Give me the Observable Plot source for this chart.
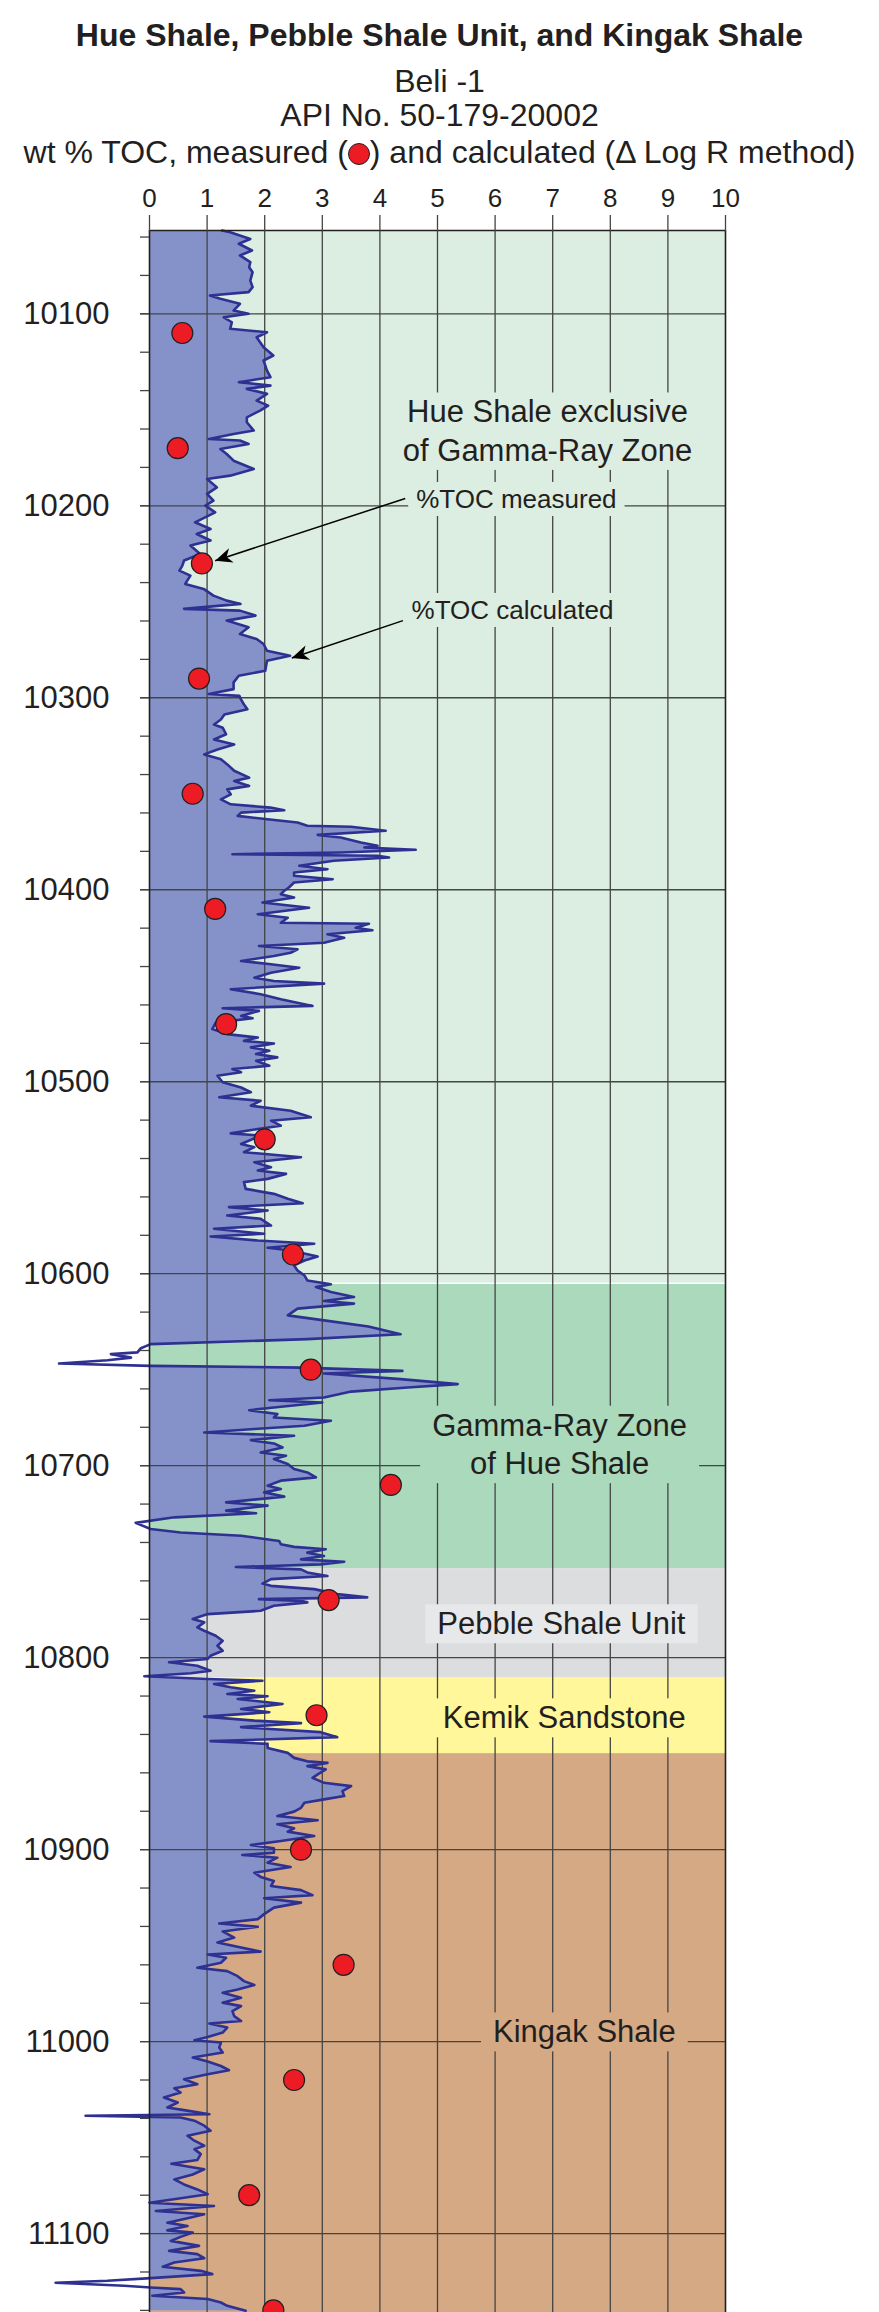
<!DOCTYPE html>
<html><head><meta charset="utf-8">
<script src="https://cdn.jsdelivr.net/npm/d3@7"></script>
<script src="https://cdn.jsdelivr.net/npm/@observablehq/plot@0.6"></script>
<style>
html,body{margin:0;padding:0;background:#fff;}
body{width:879px;height:2312px;overflow:hidden;font-family:"Liberation Sans",Arial,Helvetica,sans-serif;color:#231f20;}
#header{position:relative;height:170px;}
#header div{position:absolute;left:0;width:879px;text-align:center;font-size:32px;line-height:32px;white-space:nowrap;}
#title{top:19px;font-weight:bold;}
#well{top:65px;}
#api{top:99px;}
#measure{top:136px;}
.dot{display:inline-block;width:22px;height:22px;border-radius:50%;background:#ed1c24;border:1.2px solid #231f20;box-sizing:border-box;vertical-align:-2px;}
#chart svg{display:block;}
</style></head><body>
<div id="header">
 <div id="title">Hue Shale, Pebble Shale Unit, and Kingak Shale</div>
 <div id="well">Beli -1</div>
 <div id="api">API No. 50-179-20002</div>
 <div id="measure">wt % TOC, measured (<span class="dot"></span>) and calculated (Δ Log R method)</div>
</div>
<div id="chart"></div>
<script>
// Calculated TOC (Delta Log R) – depth (ft) and wt % TOC
const calcDepth = [
10056.6,10057.5,10061.0,10063.5,10067.0,10069.6,10073.1,10075.7,10078.3,10082.7,10086.1,10088.7,10090.5,10092.2,10094.8,10098.3,
10100.0,10101.8,10104.4,10107.8,10109.6,10112.2,10117.4,10121.7,10124.3,10129.6,10133.0,10135.6,10137.4,10139.1,10141.7,10145.2,
10147.8,10150.4,10153.9,10156.5,10160.8,10162.6,10165.2,10166.0,10167.8,10170.4,10173.0,10176.5,10180.8,10184.3,10186.0,10190.4,
10193.8,10197.3,10199.9,10203.4,10208.6,10212.1,10214.7,10218.1,10220.7,10225.1,10228.5,10231.2,10233.8,10236.4,10240.7,10243.3,
10246.8,10249.4,10251.1,10253.7,10254.6,10257.2,10259.8,10263.3,10266.8,10269.4,10272.0,10275.5,10278.1,10280.7,10285.9,10288.5,
10292.0,10295.5,10298.0,10299.0,10301.0,10303.5,10306.0,10308.7,10311.3,10313.9,10315.6,10319.0,10321.7,10324.3,10326.9,10329.5,
10332.0,10334.7,10338.0,10341.6,10343.3,10345.9,10347.7,10350.3,10352.9,10355.5,10357.2,10358.6,10359.8,10361.5,10363.3,10365.0,
10366.7,10367.2,10369.3,10371.4,10372.8,10375.4,10377.1,10378.0,10379.2,10380.6,10381.5,10382.3,10383.2,10384.9,10387.5,10389.3,
10391.0,10392.7,10394.5,10396.2,10398.8,10400.5,10402.3,10404.0,10406.6,10409.4,10412.8,10414.6,10417.2,10417.7,10419.8,10421.1,
10423.2,10425.0,10427.6,10429.3,10431.0,10432.8,10434.5,10437.1,10438.8,10440.6,10443.2,10445.8,10447.5,10448.9,10451.8,10454.4,
10457.0,10460.5,10461.7,10463.1,10465.7,10466.9,10469.2,10472.6,10475.2,10477.0,10478.7,10480.1,10482.1,10483.9,10485.6,10487.3,
10489.1,10491.7,10493.4,10495.1,10496.9,10500.3,10503.0,10505.5,10508.1,10509.9,10512.5,10515.1,10518.5,10520.3,10522.9,10524.6,
10526.9,10528.1,10532.4,10534.1,10536.7,10539.3,10541.9,10544.5,10546.2,10548.0,10550.6,10552.3,10555.8,10558.4,10561.0,10563.3,
10565.3,10567.1,10569.7,10571.4,10574.9,10576.6,10579.2,10580.6,10582.7,10584.4,10586.5,10587.9,10591.0,10593.1,10595.7,10598.3,
10600.9,10603.5,10605.5,10606.9,10609.5,10612.1,10614.2,10615.6,10618.2,10621.7,10624.3,10627.5,10631.5,10634.1,10636.7,10638.8,
10641.0,10641.9,10643.7,10645.1,10646.8,10648.0,10648.9,10650.6,10652.0,10654.9,10657.5,10659.3,10661.4,10664.5,10665.9,10667.1,
10669.7,10671.1,10673.1,10674.9,10676.6,10679.2,10680.9,10682.7,10684.4,10686.7,10688.4,10690.5,10693.1,10694.8,10696.5,10699.1,
10701.7,10703.5,10706.1,10707.8,10710.4,10712.1,10713.9,10716.1,10719.1,10720.8,10723.4,10724.8,10726.9,10729.8,10733.0,10734.8,
10736.5,10739.2,10740.9,10742.3,10743.5,10745.3,10747.0,10748.8,10750.0,10751.4,10752.8,10754.0,10755.6,10757.5,10759.1,10761.4,
10762.6,10764.3,10766.9,10768.6,10769.5,10770.4,10771.2,10773.0,10775.6,10777.3,10779.9,10781.6,10784.2,10786.0,10788.6,10791.2,
10793.8,10796.4,10799.0,10800.7,10802.4,10804.2,10806.8,10808.1,10809.7,10811.1,10812.0,10813.7,10815.4,10817.2,10818.9,10820.1,
10821.5,10824.1,10826.7,10828.4,10830.7,10832.8,10834.1,10836.2,10838.8,10841.4,10843.5,10844.9,10847.0,10849.6,10852.2,10854.0,
10854.8,10856.5,10858.2,10860.8,10862.6,10865.2,10866.9,10869.5,10872.1,10873.8,10875.6,10878.2,10880.2,10882.5,10884.7,10886.8,
10888.9,10890.6,10892.9,10895.5,10897.6,10899.3,10901.6,10902.8,10904.2,10906.8,10909.0,10912.0,10914.2,10916.3,10918.9,10921.1,
10923.7,10925.3,10927.6,10930.2,10933.6,10936.2,10938.5,10940.2,10942.6,10945.8,10948.4,10951.0,10953.1,10954.6,10956.3,10958.9,
10961.5,10963.3,10965.9,10968.5,10970.5,10972.8,10974.5,10977.1,10979.7,10981.5,10984.1,10986.7,10989.3,10990.6,10992.7,10995.3,
10997.6,10999.3,11000.5,11003.1,11005.7,11008.3,11010.4,11012.7,11014.9,11017.0,11019.6,11022.2,11024.3,11026.5,11029.1,11031.7,
11034.3,11035.7,11037.8,11038.6,11039.5,11041.2,11043.8,11046.4,11049.0,11051.6,11054.2,11056.0,11058.6,11061.7,11063.6,11066.5,
11069.2,11071.8,11074.4,11077.0,11079.5,11081.6,11083.9,11085.6,11088.2,11089.9,11092.0,11094.3,11096.0,11098.3,11099.5,11101.7,
11103.8,11106.4,11109.0,11110.7,11112.8,11115.1,11117.3,11119.4,11121.1,11123.2,11124.6,11125.6,11127.2,11128.1,11128.9,11130.7,
11132.4,11134.1,11135.9,11137.6,11140.2
];
const calcToc = [
1.26,1.40,1.75,1.55,1.78,1.57,1.75,1.73,1.79,1.75,1.79,1.72,1.05,1.23,1.57,1.46,
1.72,1.29,1.43,1.40,2.04,1.86,1.98,2.15,1.98,2.04,2.10,1.55,2.10,1.69,2.04,1.86,
2.06,1.92,1.69,1.69,1.81,1.46,1.03,1.57,1.72,1.23,1.34,1.46,1.81,1.40,1.00,1.17,
1.00,1.11,0.97,1.14,0.79,1.06,0.82,1.06,0.71,0.88,0.60,0.57,0.52,0.71,0.62,0.94,
1.11,1.34,1.58,0.60,1.57,1.84,1.34,1.72,1.57,1.86,1.98,2.04,2.44,2.04,2.01,1.55,
1.46,1.46,1.03,1.56,1.59,1.64,1.70,1.30,1.24,1.12,1.27,1.33,1.12,1.47,1.18,0.95,
1.24,1.35,1.47,1.73,1.47,1.73,1.35,1.41,1.24,1.41,2.10,2.34,1.59,1.53,2.05,2.57,
2.74,3.50,4.10,2.92,3.32,3.67,3.96,3.73,4.62,3.32,1.44,3.96,4.16,3.20,2.60,3.09,
2.51,2.51,3.18,2.51,2.42,2.34,2.28,2.51,1.96,2.77,1.88,2.40,2.28,3.81,3.58,3.87,
3.09,3.38,3.03,1.90,2.57,2.45,2.16,1.59,2.11,2.60,2.11,1.82,2.16,3.03,1.41,1.93,
2.28,2.83,1.27,1.90,1.59,1.79,1.15,1.09,1.35,1.88,1.64,2.16,1.76,2.08,1.85,2.22,
1.85,2.08,1.44,1.59,1.18,1.27,1.59,1.76,1.21,1.93,1.76,2.45,2.80,2.11,2.28,1.88,
1.41,1.93,1.59,1.82,1.64,2.63,1.82,2.11,1.88,2.37,2.05,1.64,1.67,2.16,2.40,2.66,
1.38,2.05,1.35,1.93,2.11,1.12,1.99,1.06,1.88,2.86,2.05,2.45,2.92,2.69,2.51,2.57,
2.69,2.74,3.15,2.89,3.15,3.55,3.03,3.55,2.57,2.40,3.03,3.80,4.36,2.74,0.02,-0.15,
-0.21,-0.67,-0.32,-0.73,-1.57,0.02,2.63,4.39,3.03,4.36,5.35,4.48,3.50,3.03,2.08,3.00,
2.16,1.73,2.22,2.16,3.15,2.69,1.82,0.95,2.51,1.76,2.16,2.31,1.93,2.37,2.16,2.40,
2.51,2.74,2.89,2.28,2.05,2.28,1.99,2.34,1.33,2.05,1.33,1.85,0.43,-0.24,0.02,0.54,
1.59,2.25,2.28,2.51,3.06,2.74,3.03,2.63,3.38,2.97,1.50,2.63,2.74,3.09,2.11,1.96,
2.11,2.86,3.26,3.78,1.90,2.63,2.74,2.16,1.93,1.01,0.75,0.95,0.83,0.95,1.15,1.27,
1.18,1.27,1.06,1.01,0.34,0.83,1.06,0.72,-0.09,1.01,1.96,1.12,1.41,1.82,1.35,2.05,
1.53,2.31,1.59,2.08,0.95,1.82,2.63,1.59,2.97,3.26,1.06,2.05,2.05,2.40,2.51,2.74,
3.09,2.74,3.06,2.92,2.83,3.03,3.50,3.35,3.38,3.03,2.69,2.63,2.51,2.22,2.92,2.22,
2.51,2.40,2.86,2.28,1.76,2.16,2.16,1.61,2.22,2.05,2.45,1.82,1.93,2.16,2.11,2.63,
2.83,1.99,2.63,2.16,1.99,1.88,1.21,1.88,1.27,1.47,1.18,1.59,1.93,1.01,1.33,1.24,
0.83,1.35,1.53,1.64,1.82,1.53,1.27,1.59,1.27,1.59,1.44,1.47,1.59,1.04,1.35,1.27,
1.01,0.78,1.24,1.21,1.27,0.75,1.01,1.24,1.38,1.01,0.60,0.83,0.43,0.54,0.25,0.49,
0.31,0.60,1.04,-1.11,0.54,0.78,0.95,1.06,0.66,0.78,0.95,0.78,0.89,0.83,0.38,0.95,
0.75,0.43,0.60,0.83,1.01,0.54,0.00,1.12,0.11,0.95,0.66,0.31,0.66,0.31,0.75,0.54,
0.37,0.86,0.34,0.83,0.95,0.43,0.23,0.89,1.09,0.02,-0.73,-1.63,-0.44,0.02,0.54,0.60,
0.05,1.01,1.24,1.35,1.67
];

// Measured TOC samples
const measuredDepth = [10110,10170,10230,10290,10350,10410,10470,10530,10590,10650,10710,10770,10830,10900,10960,11020,11080,11140];
const measuredToc   = [0.57,0.49,0.91,0.86,0.75,1.14,1.33,2.00,2.49,2.80,4.19,3.11,2.90,2.63,3.37,2.51,1.73,2.15];

// Stratigraphic zones
const zoneNames  = ["Hue Shale exclusive of Gamma-Ray Zone","Gamma-Ray Zone of Hue Shale","Pebble Shale Unit","Kemik Sandstone","Kingak Shale"];
const zoneTop    = [10056.6,10605.0,10753.6,10810.6,10850.0];
const zoneBase   = [10605.0,10753.6,10810.6,10850.0,11141.1];
const zoneColors = ["#dcede2","#aad9bb","#dcdddf","#fff799","#d5a983"];

// Zone labels (annotation positions in data units)
const labelText  = ["Hue Shale exclusive\nof Gamma-Ray Zone","Gamma-Ray Zone\nof Hue Shale","Pebble Shale Unit","Kemik Sandstone","Kingak Shale"];
const labelToc   = [6.91,7.12,7.15,7.20,7.55];
const labelDepth = [10160.2,10688.0,10781.4,10830.4,10994.0];
const labelBg    = ["#dcede2","#aad9bb","#e7e8e9","#fff799","#d5a983"];

// Arrow notes
const noteText   = ["%TOC measured","%TOC calculated"];
const noteToc    = [4.63,4.55];
const noteDepth  = [10196.8,10254.6];
const arrowFromToc   = [4.44,4.40];
const arrowFromDepth = [10196.2,10259.8];
const arrowToToc     = [1.14,2.47];
const arrowToDepth   = [10228.6,10279.3];

// Axes
const xTicks = d3.range(0, 11);
const xGrid = d3.range(1, 10);
const depthMajor = [10100,10200,10300,10400,10500,10600,10700,10800,10900,11000,11100];
const depthMinor = d3.range(10060, 11141, 20);
const depthTop = 10056.6, depthBase = 11141.1;

const calc = calcDepth.map((d, i) => ({depth: d, toc: calcToc[i]}));
const measured = measuredDepth.map((d, i) => ({depth: d, toc: measuredToc[i]}));
const zones = zoneNames.map((n, i) => ({name: n, top: zoneTop[i], base: zoneBase[i], color: zoneColors[i]}));
const labels = labelText.map((t, i) => ({text: t, toc: labelToc[i], depth: labelDepth[i]}));
const notes = noteText.map((t, i) => ({text: t, toc: noteToc[i], depth: noteDepth[i]}));
const arrows = arrowFromToc.map((x, i) => ({x1: x, y1: arrowFromDepth[i], x2: arrowToToc[i], y2: arrowToDepth[i]}));

function arrowHead(color) {
  const m = d3.create("svg:marker")
    .attr("viewBox", "-18 -8 19 16")
    .attr("markerWidth", 19).attr("markerHeight", 16)
    .attr("markerUnits", "userSpaceOnUse")
    .attr("orient", "auto")
    .attr("refX", 0).attr("refY", 0);
  m.append("path").attr("d", "M0,0L-17,-7.5L-12,0L-17,7.5Z").attr("fill", color).attr("stroke", "none");
  return m.node();
}

const gridColor = "#444";
const ink = "#231f20";

const chart = Plot.plot({
  width: 879,
  height: 2142,
  marginTop: 60,
  marginLeft: 149,
  marginRight: 154,
  marginBottom: 0,
  style: {fontFamily: "'Liberation Sans', Arial, sans-serif", fontSize: "24px", color: ink, background: "white", overflow: "visible"},
  x: {domain: [0, 10], axis: null},
  y: {domain: [depthTop, depthBase], reverse: true, axis: null},
  color: {type: "identity"},
  marks: [
    Plot.rect(zones, {x1: () => 0, x2: () => 10, y1: "top", y2: "base", fill: "color"}),
    Plot.ruleY([zoneTop[1]], {x1: 0, x2: 10, stroke: "white", strokeWidth: 1.5}),
    Plot.areaX(calc, {y: "depth", x1: () => 0, x2: "toc", fill: "#8592c9", clip: true}),
    Plot.gridX({ticks: xGrid, stroke: gridColor, strokeOpacity: 1, strokeWidth: 1.3}),
    Plot.gridY({ticks: depthMajor, stroke: gridColor, strokeOpacity: 1, strokeWidth: 1.3}),
    Plot.text(labels, {x: "toc", y: "depth", text: "text", fontSize: 31, lineHeight: 1.24, fill: ink, textAnchor: "middle"}),
    Plot.text(notes, {x: "toc", y: "depth", text: "text", fontSize: 26, fill: ink, textAnchor: "start"}),
    Plot.lineX(calc, {x: "toc", y: "depth", stroke: "#2e3192", strokeWidth: 2.6, strokeLinejoin: "round"}),
    Plot.link(arrows, {x1: "x1", y1: "y1", x2: "x2", y2: "y2", stroke: "#000", strokeWidth: 1.5, markerEnd: arrowHead}),
    Plot.dot(measured, {x: "toc", y: "depth", r: 10.5, fill: "#ed1c24", stroke: ink, strokeWidth: 1.2}),
    Plot.ruleX([0, 10], {stroke: ink, strokeWidth: 1.6}),
    Plot.ruleY([depthTop], {stroke: ink, strokeWidth: 1.6}),
    Plot.axisX({ticks: xTicks, anchor: "top", tickSize: 16, tickPadding: 8, fontSize: 26, label: null, stroke: gridColor, strokeWidth: 1.3}),
    Plot.axisY({ticks: depthMinor, anchor: "left", tickSize: 9, tickFormat: () => "", label: null, stroke: gridColor, strokeWidth: 1.3}),
    Plot.axisY({ticks: depthMajor, anchor: "left", tickSize: 9, tickPadding: 31, fontSize: 31, label: null, tickFormat: d => String(d), stroke: gridColor, strokeWidth: 1.3})
  ]
});

document.getElementById("chart").append(chart);

// Put an opaque box behind each annotation so the grid lines stop at the text
function boxLabels(texts, bgs, padX, padY) {
  const flat = texts.map(s => s.replace(/\n/g, ""));
  chart.querySelectorAll("text").forEach(t => {
    const i = flat.indexOf(t.textContent);
    if (i < 0) return;
    const b = t.getBBox();
    const r = document.createElementNS("http://www.w3.org/2000/svg", "rect");
    r.setAttribute("x", b.x - padX);
    r.setAttribute("y", b.y - padY);
    r.setAttribute("width", b.width + 2 * padX);
    r.setAttribute("height", b.height + 2 * padY);
    r.setAttribute("fill", bgs[i]);
    r.setAttribute("stroke", "none");
    const tr = t.getAttribute("transform");
    if (tr) r.setAttribute("transform", tr);
    t.parentNode.insertBefore(r, t);
  });
}
boxLabels(labelText, labelBg, 12, 2);
boxLabels(noteText, noteText.map(() => zoneColors[0]), 8, 2);
</script>
</body></html>
